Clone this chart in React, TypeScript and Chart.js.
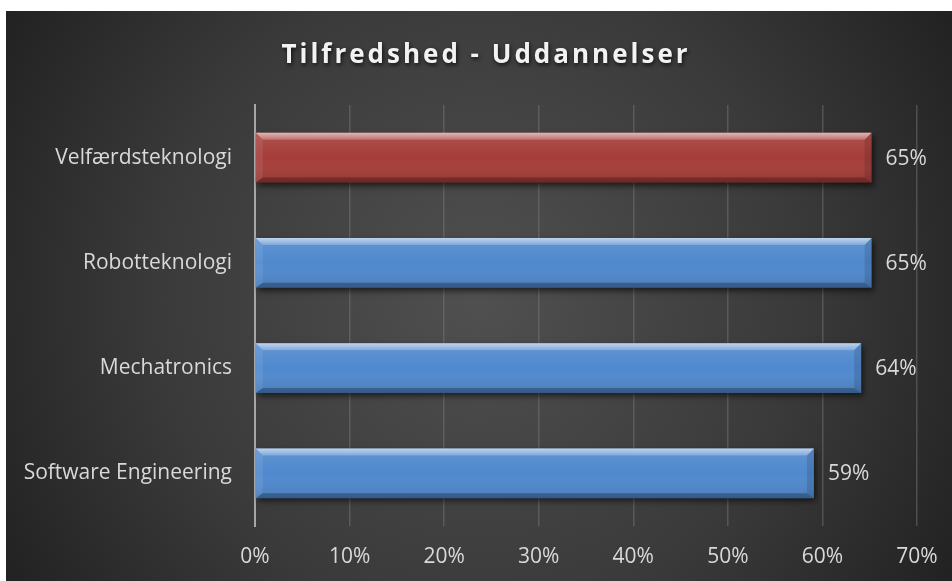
import React, { useEffect, useRef } from "react";
import { Chart, registerables } from "chart.js";

Chart.register(...registerables);

const TITLE = "Tilfredshed - Uddannelser";
const categories = ["Velfærdsteknologi", "Robotteknologi", "Mechatronics", "Software Engineering"];
const satisfaction = [65.2, 65.2, 64.1, 59.1];
const barColors = ["#A63D39", "#5089CE", "#5089CE", "#5089CE"];
const axisMin = 0;
const axisMax = 70;
const axisStep = 10;

const FONT = "'Open Sans', 'Noto Sans', sans-serif";
const TEXT_COLOR = "#D9D9D9";

const backgroundPlugin = {
  id: "bgPlugin",
  beforeDraw(chart: any) {
    const { ctx, width, height } = chart;
    ctx.save();
    const g = ctx.createRadialGradient(width * 0.5, height * 0.5, 0, width * 0.5, height * 0.5, width * 0.62);
    g.addColorStop(0, "#505050");
    g.addColorStop(0.55, "#3A3A3A");
    g.addColorStop(1, "#1E1E1E");
    ctx.fillStyle = g;
    ctx.fillRect(0, 0, width, height);
    ctx.restore();
  },
};

const titlePlugin = {
  id: "titleDraw",
  afterDraw(chart: any) {
    const { ctx } = chart;
    ctx.save();
    ctx.font = `bold 26px ${FONT}`;
    (ctx as any).letterSpacing = "3px";
    ctx.textAlign = "center";
    ctx.textBaseline = "alphabetic";
    ctx.shadowColor = "rgba(0,0,0,0.75)";
    ctx.shadowBlur = 4;
    ctx.shadowOffsetX = 1;
    ctx.shadowOffsetY = 2;
    ctx.fillStyle = "#F2F2F2";
    ctx.fillText(TITLE, 480, 52);
    ctx.restore();
  },
};

const bevelPlugin = {
  id: "bevel",
  beforeDatasetsDraw(chart: any) {
    const { ctx } = chart;
    ctx.save();
    ctx.shadowColor = "rgba(0,0,0,0.6)";
    ctx.shadowBlur = 6;
    ctx.shadowOffsetX = 2;
    ctx.shadowOffsetY = 3;
  },
  afterDatasetsDraw(chart: any) {
    const { ctx } = chart;
    ctx.restore();
    const meta = chart.getDatasetMeta(0);
    meta.data.forEach((el: any, i: number) => {
      const { x, y, base, height } = el.getProps(["x", "y", "base", "height"], true);
      const left = Math.min(base, x);
      const right = Math.max(base, x);
      const top = y - height / 2;
      const bottom = y + height / 2;
      const b = 7;
      ctx.save();
      const g = ctx.createLinearGradient(0, top, 0, bottom);
      g.addColorStop(0, "rgba(255,255,255,0.10)");
      g.addColorStop(0.5, "rgba(255,255,255,0)");
      g.addColorStop(1, "rgba(0,0,0,0.12)");
      ctx.fillStyle = g;
      ctx.fillRect(left, top, right - left, bottom - top);
      // top bevel
      ctx.beginPath();
      ctx.moveTo(left, top);
      ctx.lineTo(right, top);
      ctx.lineTo(right - b, top + b);
      ctx.lineTo(left + b, top + b);
      ctx.closePath();
      const gt = ctx.createLinearGradient(0, top, 0, top + b);
      gt.addColorStop(0, "rgba(255,255,255,0.6)");
      gt.addColorStop(1, "rgba(255,255,255,0.22)");
      ctx.fillStyle = gt;
      ctx.fill();
      // bottom bevel
      ctx.beginPath();
      ctx.moveTo(left, bottom);
      ctx.lineTo(right, bottom);
      ctx.lineTo(right - b, bottom - b + 2);
      ctx.lineTo(left + b, bottom - b + 2);
      ctx.closePath();
      ctx.fillStyle = "rgba(0,0,0,0.25)";
      ctx.fill();
      // right bevel
      ctx.beginPath();
      ctx.moveTo(right, top);
      ctx.lineTo(right, bottom);
      ctx.lineTo(right - b, bottom - b + 2);
      ctx.lineTo(right - b, top + b);
      ctx.closePath();
      ctx.fillStyle = "rgba(0,0,0,0.12)";
      ctx.fill();
      // left bevel
      ctx.beginPath();
      ctx.moveTo(left, top);
      ctx.lineTo(left, bottom);
      ctx.lineTo(left + b, bottom - b + 2);
      ctx.lineTo(left + b, top + b);
      ctx.closePath();
      ctx.fillStyle = "rgba(255,255,255,0.08)";
      ctx.fill();
      ctx.restore();

      const v = chart.data.datasets[0].data[i];
      ctx.save();
      ctx.font = `21px ${FONT}`;
      ctx.fillStyle = TEXT_COLOR;
      ctx.textAlign = "left";
      ctx.textBaseline = "middle";
      ctx.fillText(`${Math.round(v)}%`, right + 14, y + 1);
      ctx.restore();
    });
  },
};

export default function App() {
  const canvasRef = useRef<HTMLCanvasElement | null>(null);

  useEffect(() => {
    if (!canvasRef.current) return;
    const chart = new Chart(canvasRef.current, {
      type: "bar",
      data: {
        labels: categories,
        datasets: [
          {
            data: satisfaction,
            backgroundColor: barColors,
            borderWidth: 0,
            categoryPercentage: 0.95,
            barPercentage: 0.5,
          },
        ],
      },
      options: {
        indexAxis: "y",
        animation: false,
        responsive: true,
        maintainAspectRatio: false,
        layout: { padding: { top: 94, right: 35, left: 0, bottom: 0 } },
        plugins: {
          legend: { display: false },
          title: { display: false },
          tooltip: { enabled: false },
        },
        scales: {
          x: {
            min: axisMin,
            max: axisMax,
            ticks: {
              stepSize: axisStep,
              color: TEXT_COLOR,
              font: { family: FONT, size: 21, lineHeight: 2.95 },
              padding: 0,
              callback: (v: any) => `${v}%`,
            },
            grid: { color: "rgba(125,125,125,0.45)", lineWidth: 1.5, drawTicks: false },
            border: { display: false },
            afterFit: (scale: any) => {
              scale.height = 55;
            },
          },
          y: {
            ticks: {
              color: TEXT_COLOR,
              font: { family: FONT, size: 21 },
              padding: 23,
            },
            grid: { display: false, drawTicks: false },
            border: { display: true, color: "#A6A6A6", width: 2 },
            afterFit: (scale: any) => {
              scale.width = 249;
            },
          },
        },
      },
      plugins: [backgroundPlugin, bevelPlugin, titlePlugin],
    });
    return () => chart.destroy();
  }, []);

  return (
    <div style={{ position: "absolute", left: 6, top: 11, width: 946, height: 570 }}>
      <canvas ref={canvasRef} />
    </div>
  );
}
